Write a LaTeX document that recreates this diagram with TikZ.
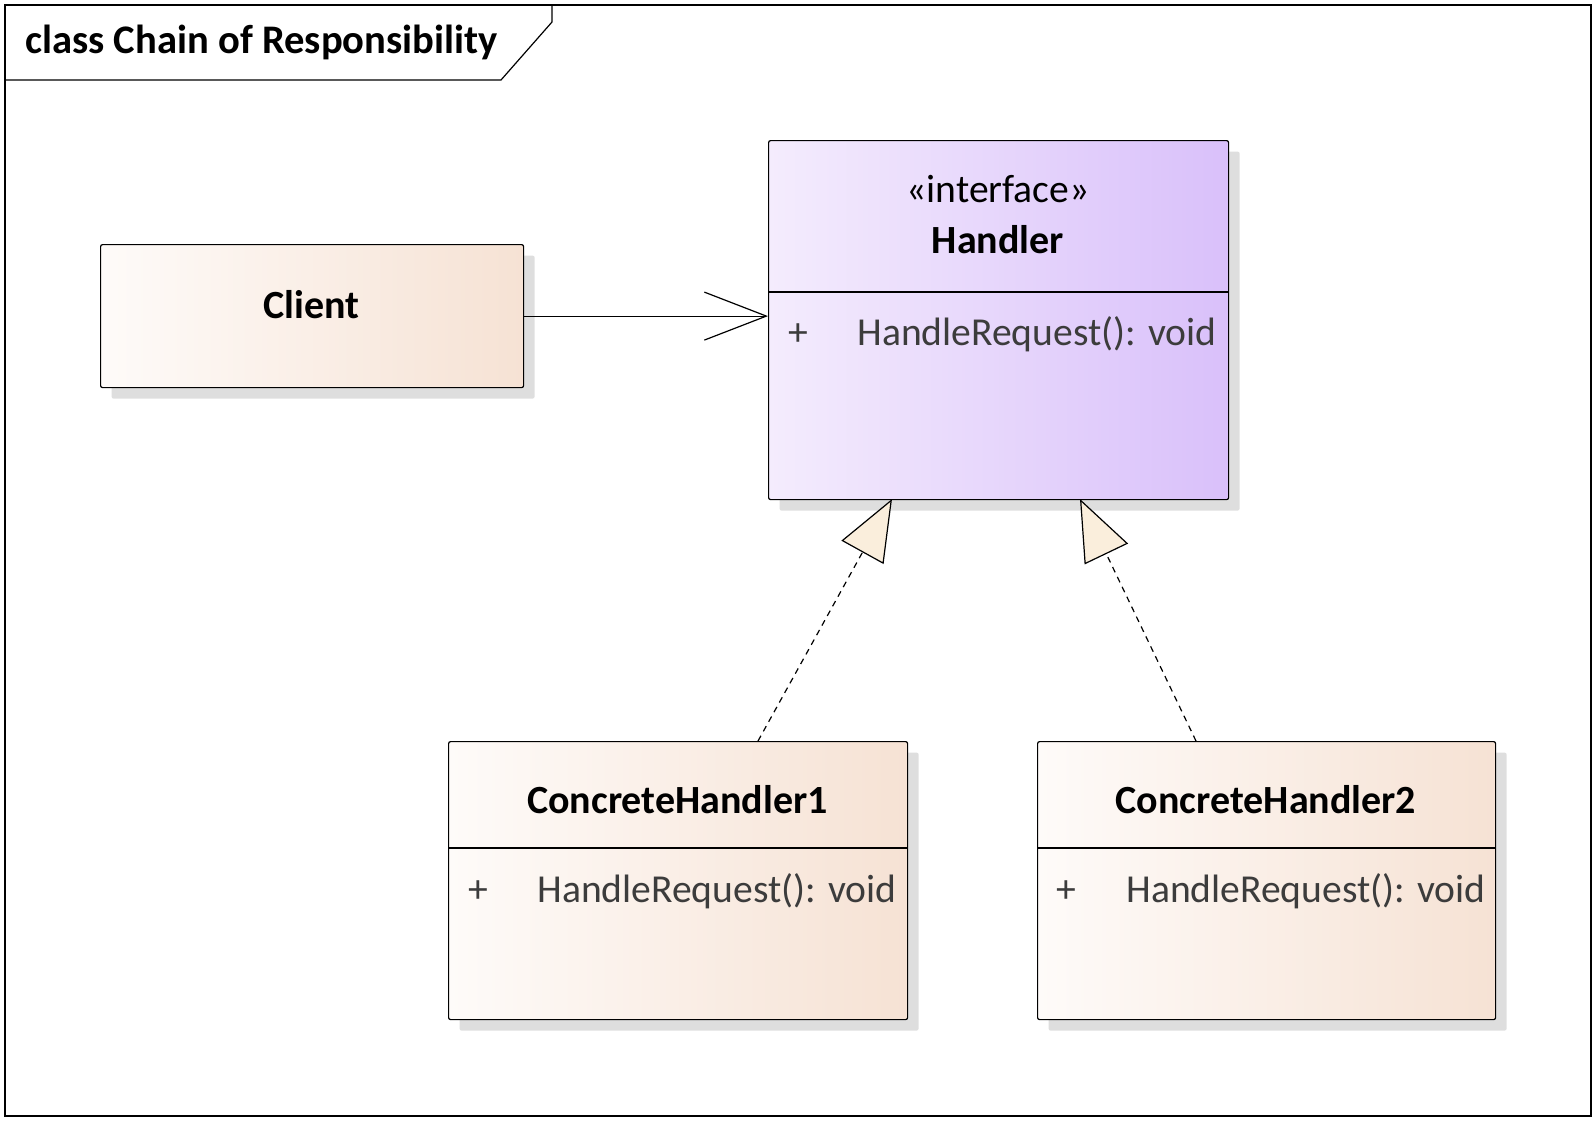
\documentclass[tikz,border=0pt]{standalone}
\usepackage{fontspec}
\setmainfont{Carlito}
\usepackage{xcolor}
\usetikzlibrary{arrows.meta,shadows}

\definecolor{peachL}{HTML}{FEFBF9}
\definecolor{peachR}{HTML}{F6E2D4}
\definecolor{lilacL}{HTML}{F4ECFD}
\definecolor{lilacR}{HTML}{D9C0FA}
\definecolor{opgray}{HTML}{3C3C3C}
\definecolor{tricream}{HTML}{FAEEDC}

\tikzset{
  classbox/.style={draw, rectangle, rounded corners=1pt, anchor=north west, inner sep=0pt,
    line width=0.6pt, drop shadow={shadow xshift=5.5pt, shadow yshift=-5.5pt, fill=black!13, opacity=1}},
  plainclass/.style={classbox, left color=peachL, right color=peachR},
  ifaceclass/.style={classbox, left color=lilacL, right color=lilacR},
  cname/.style={anchor=base, inner sep=0pt, font=\bfseries\fontsize{20}{24}\selectfont},
  stereo/.style={anchor=base, inner sep=0pt, font=\fontsize{19.8}{24}\selectfont},
  vis/.style={anchor=base, inner sep=0pt, text=opgray, font=\fontsize{19.8}{24}\selectfont},
  oper/.style={anchor=base west, inner sep=0pt, text=opgray, font=\fontsize{19.8}{24}\selectfont},
  sep/.style={line width=0.6pt},
  assoc/.style={line width=0.6pt, -{Straight Barb[length=31pt,width=24pt]}},
  realize/.style={line width=0.6pt, dash pattern=on 3pt off 2.5pt,
    -{Triangle[length=30.5pt,width=24pt,fill=tricream]}}
}

\begin{document}
\begin{tikzpicture}[x=0.5pt,y=-0.5pt]
 \useasboundingbox (0,0) rectangle (1596,1120);

 \draw[line width=0.6pt] (5,5) rectangle (1591,1116);
 \draw[line width=0.6pt] (5,80) -- (501,80) -- (552,22) -- (552,5);
 \node[anchor=base west, inner sep=0pt, font=\bfseries\fontsize{20.3}{24}\selectfont] (title) at (25,53) {class Chain of Responsibility};

 \node[plainclass, minimum width=211.5pt, minimum height=71.5pt] (client) at (100,244) {};
 \node[ifaceclass, minimum width=230pt, minimum height=179.5pt] (handler) at (768,140) {};
 \node[plainclass, minimum width=229.5pt, minimum height=139pt] (ch1) at (448,741) {};
 \node[plainclass, minimum width=229pt, minimum height=139pt] (ch2) at (1037,741) {};

 \draw[sep] (handler.west |- 0,292) -- (handler.east |- 0,292);
 \draw[sep] (ch1.west |- 0,848) -- (ch1.east |- 0,848);
 \draw[sep] (ch2.west |- 0,848) -- (ch2.east |- 0,848);

 \node[cname] (clientname) at (311.5,318) {Client};
 \node[stereo] (handlerst) at (998,202) {«interface»};
 \node[cname] (handlername) at (998,253) {Handler};
 \node[cname] (ch1name) at (677.5,813) {ConcreteHandler1};
 \node[cname] (ch2name) at (1266,813) {ConcreteHandler2};

 \node[vis] (hplus) at (798,345) {+};
 \node[oper] (hop) at (857,345) {HandleRequest(): void};
 \node[vis] (c1plus) at (478,902) {+};
 \node[oper] (c1op) at (537,902) {HandleRequest(): void};
 \node[vis] (c2plus) at (1066,902) {+};
 \node[oper] (c2op) at (1126,902) {HandleRequest(): void};

 \coordinate (c1top) at (758,741);
 \coordinate (h1bot) at (892,499);
 \coordinate (c2top) at (1196,741);
 \coordinate (h2bot) at (1080,499);

 \draw[assoc] (client.east) -- (client.east -| handler.west);
 \draw[realize] (c1top) -- (h1bot);
 \draw[realize] (c2top) -- (h2bot);

\end{tikzpicture}
\end{document}
